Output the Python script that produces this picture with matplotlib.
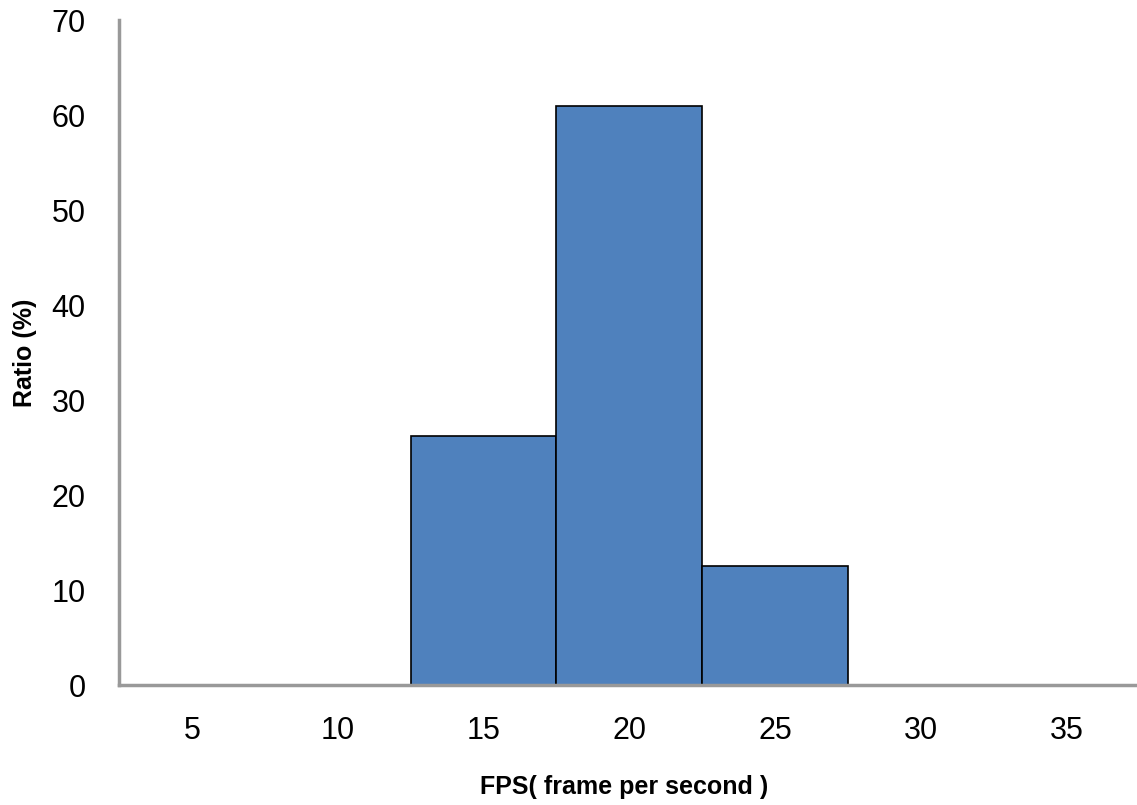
import matplotlib.pyplot as plt
import numpy as np

plt.rcParams['font.family'] = ['Liberation Sans', 'DejaVu Sans']

fps_labels = ['5', '10', '15', '20', '25', '30', '35']
ratio = [0, 0, 26.2, 61, 12.5, 0, 0]

fig = plt.figure(figsize=(11.37, 8.05), dpi=100)
ax = fig.add_axes([0.1047, 0.149, 0.8975, 0.826])

x = np.arange(len(fps_labels))
ax.bar(x, ratio, width=1.0, color='#4F81BD', edgecolor='black', linewidth=1.2, zorder=2)

ax.set_xlim(-0.5, 6.5)
ax.set_ylim(0, 70)
ax.set_yticks(range(0, 71, 10))
ax.set_xticks(x)
ax.set_xticklabels(fps_labels)
ax.tick_params(length=0, labelsize=22)
ax.tick_params(axis='x', pad=22)
ax.tick_params(axis='y', pad=24)

for s in ['top', 'right']:
    ax.spines[s].set_visible(False)
for s in ['left', 'bottom']:
    ax.spines[s].set_color('#999999')
    ax.spines[s].set_linewidth(2.5)
    ax.spines[s].set_zorder(3)

ax.set_xlabel('FPS( frame per second )', fontsize=18, fontweight='bold', va='center')
ax.set_ylabel('Ratio (%)', fontsize=18, fontweight='bold', va='center')
ax.xaxis.set_label_coords(0.495, -0.153)
ax.yaxis.set_label_coords(-0.0925, 0.5)

fig.savefig('out.png', dpi=100)
